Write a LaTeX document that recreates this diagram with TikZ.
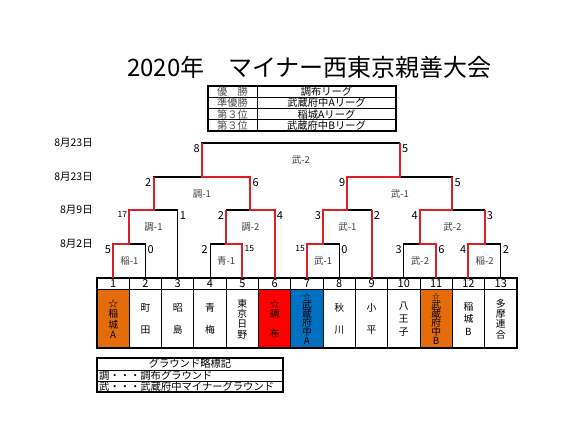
\documentclass[tikz,border=0pt]{standalone}
\usepackage{fontspec}
\setmainfont{Noto Sans CJK JP}
\usetikzlibrary{calc,positioning}
\definecolor{winred}{RGB}{222,30,38}
\definecolor{cellorange}{RGB}{228,108,10}
\definecolor{cellred}{RGB}{255,0,0}
\definecolor{cellblue}{RGB}{0,112,192}
\tikzset{
  bline/.style={line width=1.1pt,black},
  win/.style={line width=2pt,winred},
  score/.style={font=\fontsize{11}{11}\selectfont,inner sep=1pt},
  mlabel/.style={font=\fontsize{9.5}{9.5}\selectfont,text=black!75,inner sep=0pt},
  datelabel/.style={font=\fontsize{10.5}{10.5}\selectfont,anchor=east,inner sep=0pt},
  numcell/.style={draw,line width=0.9pt,minimum width=32.3pt,minimum height=11pt,inner sep=0pt,font=\fontsize{11}{11}\selectfont},
  namecell/.style={draw,line width=0.9pt,minimum width=32.3pt,minimum height=58pt,inner sep=0pt,align=center,font=\fontsize{9.8}{10.4}\selectfont},
  tabtext/.style={font=\fontsize{10.3}{10.3}\selectfont,inner sep=0pt}
}
\newcommand\twod[1]{{\fontsize{8.5}{8.5}\selectfont #1}}
\newcommand\smstar{{\fontsize{7.5}{7.5}\selectfont ☆}}
\begin{document}
\begin{tikzpicture}[x=1pt,y=-1pt]
  \useasboundingbox (0,0) rectangle (568,441);
  %% Title
  \node[font=\fontsize{24}{24}\selectfont,inner sep=0pt] (title) at (309.5,67) {2020年　マイナー西東京親善大会};
  %% Result table
  \draw[line width=1.6pt] (208,86) rectangle (396,131);
  \foreach \y in {97.25,108.5,119.75} \draw[line width=0.8pt] (208,\y) -- (396,\y);
  \draw[line width=0.8pt] (257,86) -- (257,131);
  \foreach \i/\l/\r in {1/優　勝/調布リーグ,2/準優勝/武蔵府中Aリーグ,3/第３位/稲城Aリーグ,4/第３位/武蔵府中Bリーグ}{
    \node[tabtext,text=black!70] (rl\i) at (232.5,{86+11.25*(\i-0.5)}) {\l};
    \node[tabtext] (rr\i) at (326.5,{86+11.25*(\i-0.5)}) {\r};
  }
  %% Dates
  \coordinate (L1) at (0,244);
  \coordinate (L2) at (0,210);
  \coordinate (L3) at (0,177);
  \coordinate (L4) at (0,143);
  \node[datelabel] (d4) at (93,143) {8月23日};
  \node[datelabel] (d3) at (93,177) {8月23日};
  \node[datelabel] (d2) at (93,210) {8月9日};
  \node[datelabel] (d1) at (93,244) {8月2日};
  %% Teams
  \foreach \i/\c/\t in {1/cellorange/{☆\\稲\\城\\A},2/white/{町\\[11pt]田},3/white/{昭\\[11pt]島},
      4/white/{青\\[11pt]梅},5/white/{東\\京\\日\\野},6/cellred/{☆\\調\\[10pt]布},
      7/cellblue/{\smstar\\[-1.8pt]武\\[-1.4pt]蔵\\[-1.4pt]府\\[-1.4pt]中\\[-1.4pt]A},8/white/{秋\\[11pt]川},9/white/{小\\[11pt]平},
      10/white/{八\\[2.5pt]王\\[2.5pt]子},11/cellorange/{\smstar\\[-1.8pt]武\\[-1.4pt]蔵\\[-1.4pt]府\\[-1.4pt]中\\[-1.4pt]B},
      12/white/{稲\\[2pt]城\\[2pt]B},13/white/{多\\摩\\連\\合}}{
    \node[numcell] (n\i) at ({97+32.3*(\i-0.5)},283.5) {\i};
    \node[namecell,fill=\c,below=0pt of n\i] (nm\i) {\t};
  }
  \draw[line width=1.6pt] (n1.north west) rectangle (nm13.south east);
  %% Bracket
  \foreach \a/\b/\lv/\m/\sa/\sb/\lab in {
      n1.north/n2.north/L1/c1/5/0/稲-1,
      n4.north/n5.north/L1/c2/2/\twod{15}/青-1,
      n7.north/n8.north/L1/c3/\twod{15}/0/武-1,
      n10.north/n11.north/L1/c4/3/6/武-2,
      n12.north/n13.north/L1/c5/4/2/稲-2,
      c1/n3.north/L2/cA/\twod{17}/1/調-1,
      c2/n6.north/L2/cB/2/4/調-2,
      c3/n9.north/L2/cC/3/2/武-1,
      c4/c5/L2/cD/4/3/武-2,
      cA/cB/L3/cE/2/6/調-1,
      cC/cD/L3/cF/9/5/武-1,
      cE/cF/L4/cG/8/5/武-2}{
    \draw[bline] (\a) |- (\b |- \lv) -- (\b);
    \coordinate (\m) at ($(\a |- \lv)!.5!(\b |- \lv)$);
    \node[score,anchor=north east,xshift=-1pt] at (\a |- \lv) {\sa};
    \node[score,anchor=north west,xshift=1pt] at (\b |- \lv) {\sb};
    \node[mlabel] at ($(\m)+(0,17)$) {\lab};
  }
  %% Winners
  \draw[win] (n1.north) |- (c1) -- (c1 |- L2) -- (cA) -- (cA |- L3);
  \draw[win] (n5.north) |- (c2) -- (c2 |- L2);
  \draw[win] (n6.north) |- (cB) -- (cB |- L3) -- (cE) -- (cE |- L4);
  \draw[win] (n7.north) |- (c3) -- (c3 |- L2) -- (cC) -- (cC |- L3) -- (cF) -- (cF |- L4);
  \draw[win] (n9.north) -- (n9.north |- L2);
  \draw[win] (n11.north) |- (c4) -- (c4 |- L2) -- (cD) -- (cD |- L3);
  \draw[win] (n12.north) |- (c5) -- (c5 |- L2);
  %% Ground legend
  \draw[line width=1.6pt] (97,358) rectangle (283,392);
  \draw[line width=1pt] (97,370) -- (283,370);
  \draw[line width=1pt] (97,381) -- (283,381);
  \node[tabtext] (g0) at (190,364) {グラウンド略標記};
  \node[tabtext,anchor=west] (g1) at (99,375.5) {調・・・調布グラウンド};
  \node[tabtext,anchor=west] (g2) at (99,386.5) {武・・・武蔵府中マイナーグラウンド};
\end{tikzpicture}
\end{document}
